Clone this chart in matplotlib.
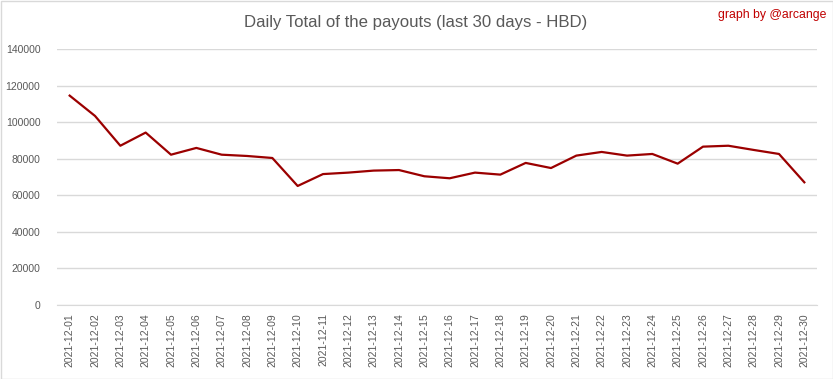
import matplotlib
matplotlib.use("Agg")
import matplotlib.pyplot as plt
from matplotlib.patches import Rectangle

dates = ["2021-12-%02d" % d for d in range(1, 31)]
payouts = [114500, 103400, 87100, 94300, 82200, 85900, 82200, 81500, 80400, 65100,
           71600, 72400, 73500, 73800, 70400, 69300, 72400, 71300, 77700, 74900,
           81700, 83700, 81700, 82600, 77300, 86600, 87100, 84800, 82600, 67100]
yticks = [0, 20000, 40000, 60000, 80000, 100000, 120000, 140000]

plt.rcParams['font.family'] = ['Liberation Sans', 'DejaVu Sans']

fig = plt.figure(figsize=(8.33, 3.79), dpi=100)
ax = fig.add_axes([57/833, 1-305/379, 760/833, (305-49)/379])

x = list(range(len(dates)))
ax.plot(x, payouts, color='#9b0000', linewidth=1.6, solid_joinstyle='round')
ax.set_xlim(-0.5, len(dates) - 0.5)
ax.set_ylim(0, 140000)
ax.set_yticks(yticks)
ax.set_yticklabels([str(v) for v in yticks], fontsize=7.5, color='#595959')
ax.set_xticks(x)
ax.set_xticklabels(dates, rotation=90, fontsize=7.5, color='#595959')
ax.tick_params(length=0, pad=6)
ax.tick_params(axis='y', pad=12)
ax.grid(axis='y', color='#d9d9d9', linewidth=1)
ax.set_axisbelow(True)
for s in ['top', 'right', 'left']:
    ax.spines[s].set_visible(False)
ax.spines['bottom'].set_color('#d9d9d9')

fig.text(416/833, 1-22/379, "Daily Total of the payouts (last 30 days - HBD)",
         ha='center', va='center', fontsize=12.1, color='#595959')
fig.text(826/833, 1-15/379, "graph by @arcange", ha='right', va='center',
         fontsize=8.8, color='#c00000')
fig.patches.append(Rectangle((0.5/833, 0.5/379), 1-1/833, 1-1/379, transform=fig.transFigure,
                             fill=False, edgecolor='#d9d9d9', linewidth=1))

fig.savefig("out.png", dpi=100)
